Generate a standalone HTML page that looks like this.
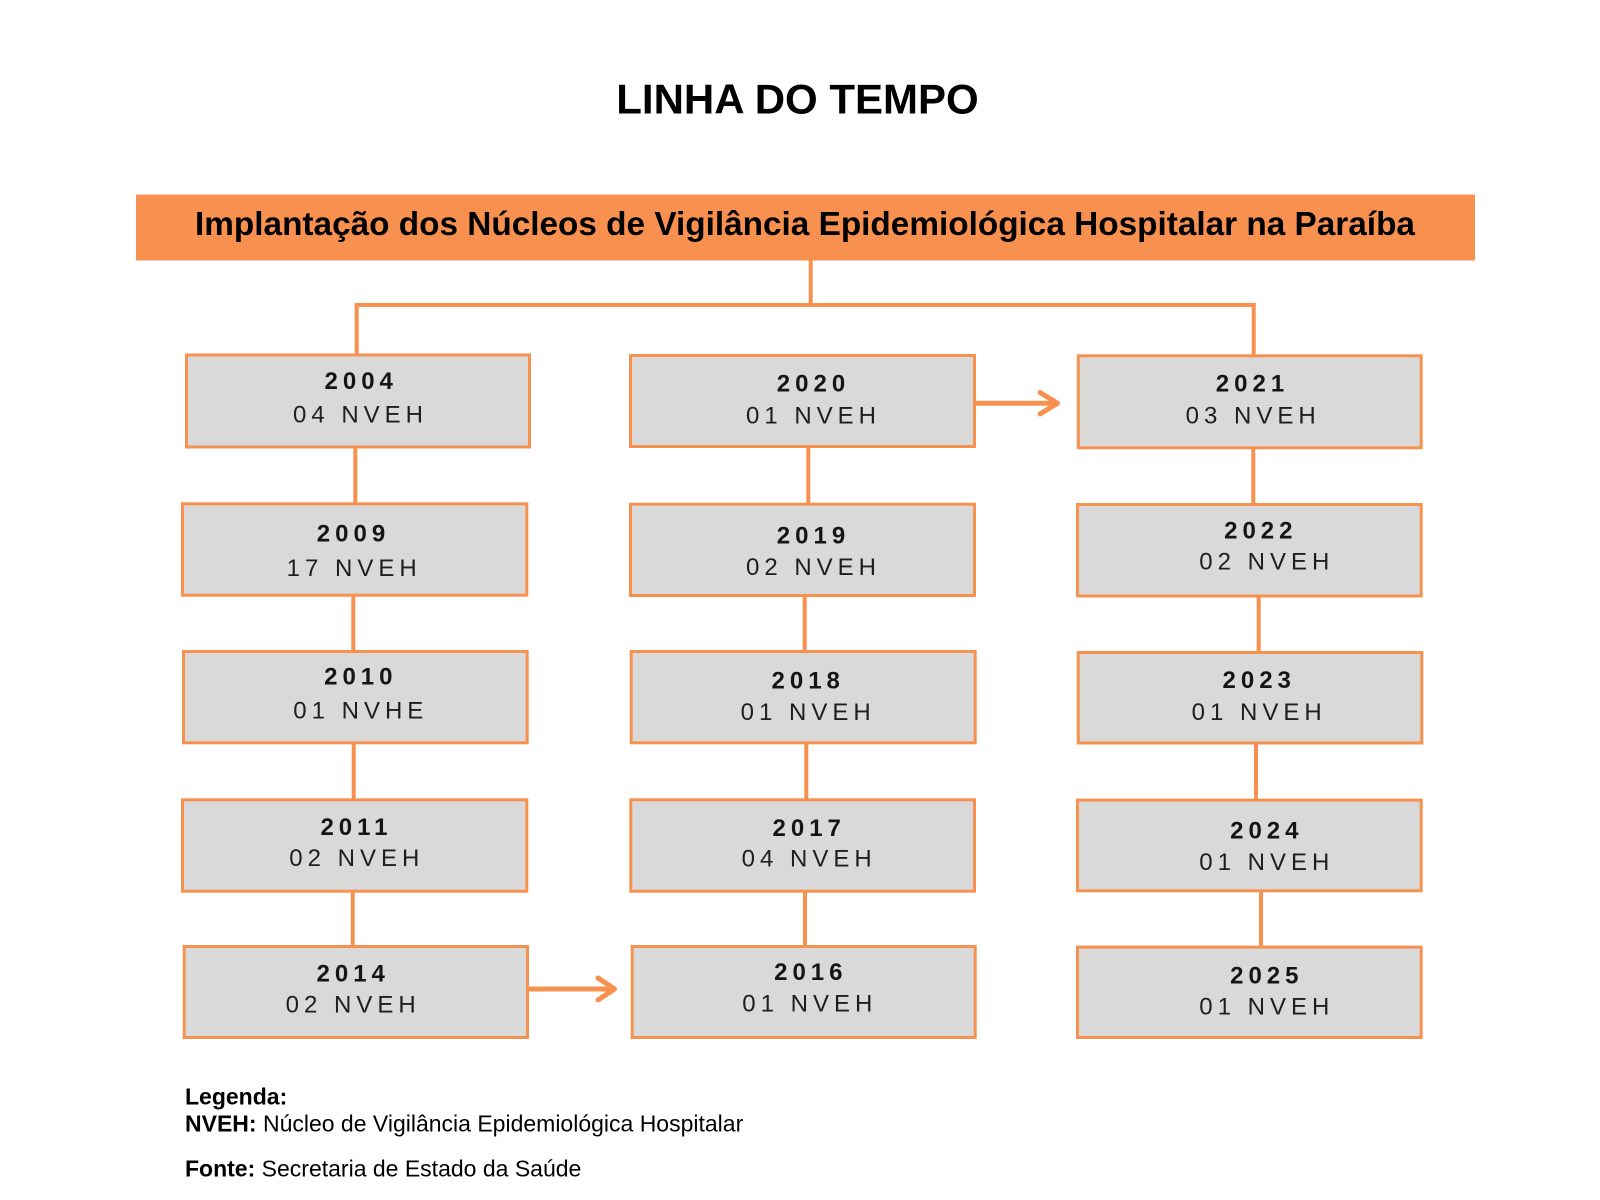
<!DOCTYPE html>
<html>
<head>
<meta charset="utf-8">
<style>
  html,body{margin:0;padding:0;background:#fff;}
  svg{display:block;}
  text{font-family:"Liberation Sans",Arial,sans-serif;}
  .yr{font-size:24px;font-weight:bold;letter-spacing:5px;fill:#151515;}
  .nv{font-size:24px;letter-spacing:5px;fill:#1e1e1e;}
  .box{fill:#d9d9d9;stroke:#f7914f;stroke-width:3;}
  .ln{stroke:#f7914f;stroke-width:4;fill:none;}
  .ar{stroke:#f7914f;stroke-width:5;fill:none;stroke-linecap:round;stroke-linejoin:round;}
  .lg{font-size:23px;fill:#000;}
</style>
</head>
<body>
<svg width="1600" height="1200" viewBox="0 0 1600 1200" xmlns="http://www.w3.org/2000/svg">
  <rect x="0" y="0" width="1600" height="1200" fill="#fff"/>

  <!-- Title -->
  <text x="797.5" y="113.5" text-anchor="middle" style="font-size:42px;font-weight:bold;fill:#000;">LINHA DO TEMPO</text>

  <!-- Banner -->
  <rect x="136" y="194.5" width="1339" height="66" fill="#f8914f"/>
  <text x="805" y="235" text-anchor="middle" style="font-size:33.35px;font-weight:bold;fill:#000;">Implantação dos Núcleos de Vigilância Epidemiológica Hospitalar na Paraíba</text>

  <!-- Top connectors -->
  <line class="ln" x1="810.7" y1="260" x2="810.7" y2="305"/>
  <line class="ln" x1="354.7" y1="305" x2="1255.7" y2="305"/>
  <line class="ln" x1="356.7" y1="303" x2="356.7" y2="354"/>
  <line class="ln" x1="1253.7" y1="303" x2="1253.7" y2="355"/>

  <!-- Column 1 vertical connectors -->
  <line class="ln" x1="355.3" y1="448" x2="355.3" y2="503"/>
  <line class="ln" x1="353.3" y1="596" x2="353.3" y2="651"/>
  <line class="ln" x1="353.7" y1="744" x2="353.7" y2="799"/>
  <line class="ln" x1="352.7" y1="892" x2="352.7" y2="946"/>

  <!-- Column 2 vertical connectors -->
  <line class="ln" x1="808.3" y1="447" x2="808.3" y2="503"/>
  <line class="ln" x1="804.7" y1="596" x2="804.7" y2="651"/>
  <line class="ln" x1="806.3" y1="744" x2="806.3" y2="799"/>
  <line class="ln" x1="805" y1="892" x2="805" y2="946"/>

  <!-- Column 3 vertical connectors -->
  <line class="ln" x1="1253.3" y1="448" x2="1253.3" y2="504"/>
  <line class="ln" x1="1258.7" y1="597" x2="1258.7" y2="652"/>
  <line class="ln" x1="1256" y1="744" x2="1256" y2="799"/>
  <line class="ln" x1="1261" y1="892" x2="1261" y2="946"/>

  <!-- Arrows -->
  <line class="ar" x1="976" y1="403.3" x2="1057" y2="403.3"/>
  <polyline class="ar" points="1040,392.5 1057.5,403.3 1040,414"/>
  <line class="ar" x1="529" y1="989" x2="614" y2="989"/>
  <polyline class="ar" points="598,978 614.5,989 598,1000"/>

  <!-- Column 1 boxes -->
  <rect class="box" x="186.5" y="355" width="343" height="92"/>
  <text class="yr" x="361.2" y="389" text-anchor="middle">2004</text>
  <text class="nv" x="360.5" y="422.7" text-anchor="middle">04 NVEH</text>

  <rect class="box" x="182.5" y="503.8" width="344.3" height="91.4"/>
  <text class="yr" x="353.5" y="541.7" text-anchor="middle">2009</text>
  <text class="nv" x="354.2" y="576" text-anchor="middle">17 NVEH</text>

  <rect class="box" x="183.5" y="651.5" width="343.7" height="91.3"/>
  <text class="yr" x="360.8" y="684.3" text-anchor="middle">2010</text>
  <text class="nv" x="360.8" y="718.7" text-anchor="middle">01 NVHE</text>

  <rect class="box" x="182.5" y="799.8" width="344.3" height="91.4"/>
  <text class="yr" x="356.5" y="835" text-anchor="middle">2011</text>
  <text class="nv" x="356.8" y="866" text-anchor="middle">02 NVEH</text>

  <rect class="box" x="184.2" y="946.5" width="343.3" height="91"/>
  <text class="yr" x="353.2" y="981.7" text-anchor="middle">2014</text>
  <text class="nv" x="353.2" y="1012.3" text-anchor="middle">02 NVEH</text>

  <!-- Column 2 boxes -->
  <rect class="box" x="630.5" y="355.5" width="344" height="91"/>
  <text class="yr" x="813.5" y="391.7" text-anchor="middle">2020</text>
  <text class="nv" x="813.5" y="423.3" text-anchor="middle">01 NVEH</text>

  <rect class="box" x="630.5" y="504.2" width="344" height="91.3"/>
  <text class="yr" x="813.5" y="543.3" text-anchor="middle">2019</text>
  <text class="nv" x="813.5" y="575" text-anchor="middle">02 NVEH</text>

  <rect class="box" x="631.2" y="651.5" width="344" height="91.3"/>
  <text class="yr" x="808.2" y="688.3" text-anchor="middle">2018</text>
  <text class="nv" x="808.2" y="720" text-anchor="middle">01 NVEH</text>

  <rect class="box" x="630.8" y="799.8" width="343.7" height="91.4"/>
  <text class="yr" x="809.2" y="836" text-anchor="middle">2017</text>
  <text class="nv" x="809.2" y="866.7" text-anchor="middle">04 NVEH</text>

  <rect class="box" x="632.2" y="946.5" width="343" height="91"/>
  <text class="yr" x="810.8" y="980" text-anchor="middle">2016</text>
  <text class="nv" x="809.8" y="1011.7" text-anchor="middle">01 NVEH</text>

  <!-- Column 3 boxes -->
  <rect class="box" x="1078.3" y="355.8" width="342.9" height="92"/>
  <text class="yr" x="1252.5" y="391.7" text-anchor="middle">2021</text>
  <text class="nv" x="1253.2" y="423.3" text-anchor="middle">03 NVEH</text>

  <rect class="box" x="1077.5" y="504.5" width="343.7" height="91.5"/>
  <text class="yr" x="1260.8" y="538.4" text-anchor="middle">2022</text>
  <text class="nv" x="1266.8" y="569.5" text-anchor="middle">02 NVEH</text>

  <rect class="box" x="1078.2" y="652.5" width="343.6" height="90.5"/>
  <text class="yr" x="1259.2" y="688.2" text-anchor="middle">2023</text>
  <text class="nv" x="1259.2" y="720" text-anchor="middle">01 NVEH</text>

  <rect class="box" x="1077.5" y="800.1" width="343.7" height="90.7"/>
  <text class="yr" x="1266.8" y="838.7" text-anchor="middle">2024</text>
  <text class="nv" x="1266.8" y="869.8" text-anchor="middle">01 NVEH</text>

  <rect class="box" x="1077.5" y="947.1" width="343.7" height="90.4"/>
  <text class="yr" x="1266.8" y="983.4" text-anchor="middle">2025</text>
  <text class="nv" x="1266.8" y="1014.5" text-anchor="middle">01 NVEH</text>

  <!-- Legend -->
  <text class="lg" x="185" y="1104.3" style="font-weight:bold;">Legenda:</text>
  <text class="lg" x="185" y="1131.7"><tspan style="font-weight:bold;">NVEH:</tspan> Núcleo de Vigilância Epidemiológica Hospitalar</text>
  <text class="lg" x="185" y="1176.7"><tspan style="font-weight:bold;">Fonte:</tspan> Secretaria de Estado da Saúde</text>
</svg>
</body>
</html>
